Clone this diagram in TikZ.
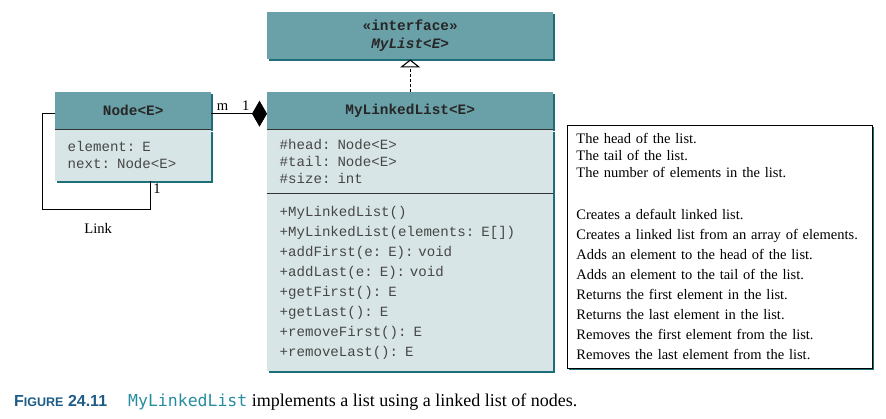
\documentclass[tikz,border=0pt]{standalone}
\usepackage{fontspec}
\usepackage{xcolor}
\setmainfont{Liberation Serif}
\setmonofont{Liberation Mono}
\newfontfamily\capsans{Liberation Sans}
\newfontfamily\capmono{DejaVu Sans Mono}
\usetikzlibrary{positioning,shadows,arrows.meta}
\definecolor{umlhead}{RGB}{106,160,168}
\definecolor{umlbody}{RGB}{216,229,230}
\definecolor{umlshade}{RGB}{30,110,122}
\definecolor{umltext}{RGB}{70,70,70}
\definecolor{captionblue}{RGB}{30,92,135}
\definecolor{captionteal}{RGB}{40,140,160}

\tikzset{
  umlshadow/.style={drop shadow={fill=umlshade, opacity=1, shadow xshift=2pt, shadow yshift=-2pt}},
  headbox/.style={fill=umlhead, umlshadow, anchor=north west, inner sep=0pt, align=center,
    font=\fontsize{14.4}{18}\selectfont\ttfamily\bfseries, text=black!85},
  bodybox/.style={fill=umlbody, umlshadow, inner xsep=12.5pt, inner ysep=0pt, align=left,
    font=\fontsize{14.1}{17}\selectfont\ttfamily, text=umltext},
  descbox/.style={fill=white, draw=black, line width=0.8pt, umlshadow, anchor=north west,
    inner xsep=9pt, inner ysep=0pt, align=left, font=\fontsize{14.5}{17}\selectfont},
  divider/.style={draw=black!80, line width=0.8pt},
  assoc/.style={draw=black, line width=0.8pt},
  lbl/.style={font=\fontsize{14.6}{16}\selectfont, inner sep=2pt},
}

\begin{document}
\begin{tikzpicture}[x=1pt, y=-1pt]
\useasboundingbox (0,0) rectangle (886,419);

% interface
\node[headbox, minimum width=286pt, minimum height=47pt] (iface) at (267,12)
  {«interface»\\\textit{MyList<E>}};

% MyLinkedList class
\node[headbox, minimum width=286pt, minimum height=37pt] (lltitle) at (267,92) {MyLinkedList<E>};
\node[bodybox, text width=261pt, minimum height=64pt, below right=0pt and 0pt of lltitle.south west] (llattr)
  {\#head: Node<E>\\\#tail: Node<E>\\\#size: int};
\node[bodybox, text width=261pt, minimum height=177pt, below right=0pt and 0pt of llattr.south west,
  font=\fontsize{14.1}{20}\selectfont\ttfamily] (llmeth)
  {+MyLinkedList()\\+MyLinkedList(elements: E[])\\+addFirst(e: E): void\\+addLast(e: E): void\\
   +getFirst(): E\\+getLast(): E\\+removeFirst(): E\\+removeLast(): E};
\draw[divider] (lltitle.south west) -- (lltitle.south east);
\draw[divider] (llattr.south west) -- (llattr.south east);

% Node class
\node[headbox, minimum width=156pt, minimum height=37pt] (nodetitle) at (55,92) {Node<E>};
\node[bodybox, text width=131pt, minimum height=51pt, below right=0pt and 0pt of nodetitle.south west] (nodebody)
  {element: E\\next: Node<E>};
\draw[divider] (nodetitle.south west) -- (nodetitle.south east);

% descriptions
\node[descbox, text width=287pt, minimum height=243pt] (desc) at (567,125)
  {The head of the list.\\The tail of the list.\\The number of elements in the list.\\[25pt]
   Creates a default linked list.\\[3pt]
   Creates a linked list from an array of elements.\\[3pt]
   Adds an element to the head of the list.\\[3pt]
   Adds an element to the tail of the list.\\[3pt]
   Returns the first element in the list.\\[3pt]
   Returns the last element in the list.\\[3pt]
   Removes the first element from the list.\\[3pt]
   Removes the last element from the list.};

% connectors
\draw[assoc, dash pattern=on 3pt off 2pt, -{Triangle[open, length=8pt, width=20pt, line width=1.1pt]}]
  (lltitle.north) -- (iface.south);
\draw[assoc, -{Diamond[fill=black, length=15pt, width=26pt]}]
  ([yshift=-3pt]nodetitle.east) -- node[lbl, pos=0.2, above=1pt] {m} node[lbl, pos=0.62, above=1pt] {1}
  ([yshift=-3pt]lltitle.west);
\draw[assoc] ([yshift=-3pt]nodetitle.west) -- ++(-13,0) -- ++(0,96)
  -| node[lbl, pos=0.26, below=11pt] {Link} node[lbl, pos=0.86, right=1pt] {1}
  ([xshift=95pt]nodebody.south west);

% caption
\node[anchor=west, inner sep=0pt, font=\fontsize{18}{20}\selectfont] (caption) at (14,402)
  {{\capsans\bfseries\color{captionblue}\fontsize{16}{18}\selectfont F{\fontsize{12.5}{14}\selectfont IGURE} 24.11}\hspace{21pt}%
   {\capmono\color{captionteal}\fontsize{16.5}{18}\selectfont MyLinkedList} implements a list using a linked list of nodes.};
\end{tikzpicture}
\end{document}
